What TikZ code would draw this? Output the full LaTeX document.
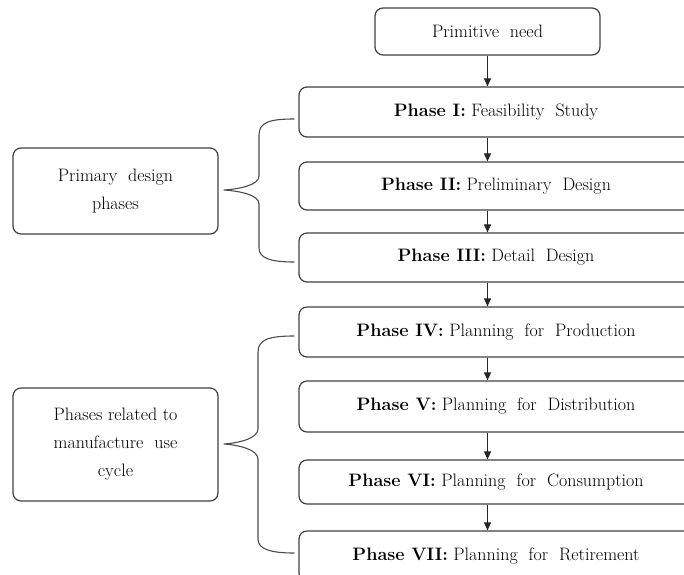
\documentclass[tikz,border=0pt]{standalone}
\usetikzlibrary{arrows.meta,calc}
\begin{document}
\begin{tikzpicture}[x=1pt,y=-1pt,
  box/.style={draw=black!75,line width=1.2pt,rounded corners=8pt,inner sep=0pt,
    font=\fontsize{18}{28}\selectfont,align=center},
  arr/.style={draw=black!85,line width=0.9pt,-{Triangle[width=7pt,length=8pt]}},
  brace/.style={draw=black!70,line width=1.1pt}]
\useasboundingbox (0,0) rectangle (684,574);
\clip (0,0) rectangle (684,574);
\node[box,minimum width=225pt,minimum height=47pt] (prim) at (487.5,31.5) {Primitive\ \ need};
\node[box,minimum width=394pt,minimum height=50pt] (p1) at (496,112) {\textbf{Phase I:} Feasibility\ \ Study};
\node[box,minimum width=394pt,minimum height=48pt] (p2) at (496,186) {\textbf{Phase II:} Preliminary\ \ Design};
\node[box,minimum width=394pt,minimum height=49pt] (p3) at (496,257.5) {\textbf{Phase III:} Detail\ \ Design};
\node[box,minimum width=394pt,minimum height=50pt] (p4) at (496,332) {\textbf{Phase IV:} Planning\ \ for\ \ Production};
\node[box,minimum width=394pt,minimum height=51pt] (p5) at (496,406.5) {\textbf{Phase V:} Planning\ \ for\ \ Distribution};
\node[box,minimum width=394pt,minimum height=44pt] (p6) at (496,482) {\textbf{Phase VI:} Planning\ \ for\ \ Consumption};
\node[box,minimum width=394pt,minimum height=50pt] (p7) at (496,556) {\textbf{Phase VII:} Planning\ \ for\ \ Retirement};
\node[box,minimum width=205pt,minimum height=86pt] (pd) at (115.5,191) {Primary\ \ design\\phases};
\node[box,minimum width=205pt,minimum height=113pt] (mf) at (115.5,444.5) {Phases related to\\manufacture\ \ use\\cycle};
\draw[arr] (prim.south) -- (prim.south |- p1.north);
\draw[arr] (prim.south |- p1.south) -- (prim.south |- p2.north);
\draw[arr] (prim.south |- p2.south) -- (prim.south |- p3.north);
\draw[arr] (prim.south |- p3.south) -- (prim.south |- p4.north);
\draw[arr] (prim.south |- p4.south) -- (prim.south |- p5.north);
\draw[arr] (prim.south |- p5.south) -- (prim.south |- p6.north);
\draw[arr] (prim.south |- p6.south) -- (prim.south |- p7.north);
\coordinate (b1t) at ($(p1.west)+(-4,7)$);
\coordinate (b1b) at ($(p3.west)+(-4,4.5)$);
\coordinate (b1m) at ($(pd.east)+(5,-1)$);
\draw[brace] (b1t) .. controls (270,119) and (259,122) .. (259,135) -- (259,176)
  .. controls (259,185) and (240,189) .. (b1m)
  .. controls (240,191) and (259,195) .. (259,204) -- (259,248)
  .. controls (259,258) and (270,262) .. (b1b);
\coordinate (b2t) at ($(p4.west)+(-4,4)$);
\coordinate (b2b) at ($(p7.west)+(-4,-3)$);
\coordinate (b2m) at ($(mf.east)+(5,-0.5)$);
\draw[brace] (b2t) .. controls (270,336) and (258,339) .. (258,352) -- (258,429)
  .. controls (258,438) and (240,443) .. (b2m)
  .. controls (240,445) and (258,450) .. (258,459) -- (258,539)
  .. controls (258,549) and (270,553) .. (b2b);
\end{tikzpicture}
\end{document}
